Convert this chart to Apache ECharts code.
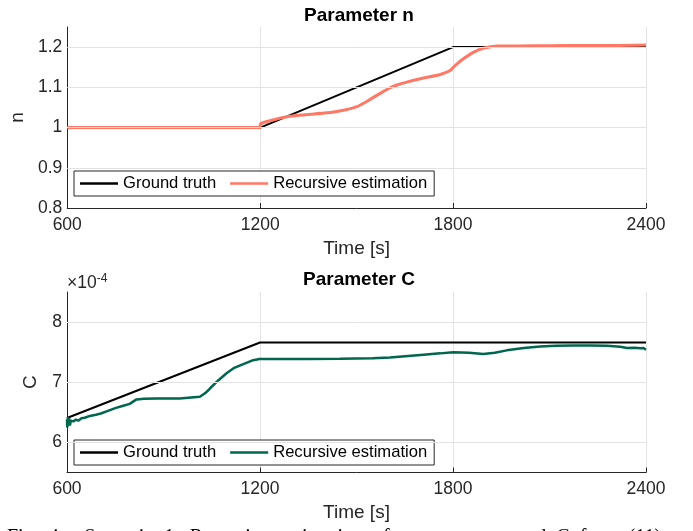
<!DOCTYPE html>
<html>
<head>
<meta charset="utf-8">
<script src="https://cdn.jsdelivr.net/npm/echarts@6/dist/echarts.min.js"></script>
<style>
html,body{margin:0;padding:0;background:#fff;}
#c{width:693px;height:531px;}
</style>
</head>
<body>
<div id="c"></div>
<script>
// ---------- data ----------
const xTicks = [600, 1200, 1800, 2400];
const nTicks = [0.8, 0.9, 1.0, 1.1, 1.2];
const cTicks = [6, 7, 8]; // units of 1e-4

const tTruthN = [600, 1200, 1800, 2400];
const nTruth  = [1.0, 1.0, 1.2, 1.2];

const tEstN = [600, 1199, 1201, 1230, 1283, 1340, 1400, 1438, 1470, 1501, 1530, 1552, 1580, 1604, 1630, 1656, 1708, 1760, 1791, 1801, 1815, 1832, 1863, 1894, 1936, 2000, 2100, 2200, 2300, 2400];
const nEst  = [1.0, 1.0, 1.009, 1.017, 1.027, 1.032, 1.036, 1.040, 1.045, 1.052, 1.064, 1.075, 1.088, 1.099, 1.107, 1.113, 1.123, 1.132, 1.142, 1.150, 1.160, 1.171, 1.187, 1.197, 1.2025, 1.203, 1.2035, 1.204, 1.204, 1.205];

const tTruthC = [600, 1200, 2400];
const cTruth  = [6.405, 7.66, 7.66];

const tEstC = [600, 601, 603, 605, 607, 609, 612, 615, 620, 628, 635, 645, 655, 671, 690, 705, 723, 750, 775, 795, 816, 840, 879, 950, 1013, 1030, 1045, 1070, 1096, 1120, 1148, 1175, 1198, 1250, 1350, 1449, 1550, 1604, 1708, 1760, 1801, 1850, 1894, 1930, 1967, 2020, 2071, 2120, 2175, 2230, 2279, 2320, 2341, 2365, 2382, 2392, 2400];
const cEst  = [6.38, 6.25, 6.42, 6.30, 6.40, 6.28, 6.36, 6.33, 6.35, 6.38, 6.36, 6.40, 6.41, 6.44, 6.46, 6.48, 6.515, 6.57, 6.61, 6.64, 6.715, 6.725, 6.73, 6.73, 6.76, 6.82, 6.90, 7.03, 7.15, 7.24, 7.30, 7.36, 7.385, 7.385, 7.385, 7.39, 7.40, 7.41, 7.457, 7.48, 7.50, 7.49, 7.47, 7.49, 7.53, 7.57, 7.595, 7.605, 7.61, 7.61, 7.605, 7.59, 7.57, 7.575, 7.565, 7.57, 7.54];

// ---------- styles ----------
const FONT = 'Liberation Sans, Arial, sans-serif';
const AX = '#262626';
const GRID = '#e3e3e3';
const ORANGE = '#FF7865';
const GREEN = '#00664D';
const TICK_FS = 17.5;
const LABEL_FS = 19;
const zip = (a, b) => a.map((v, i) => [v, b[i]]);

function xAxisCfg(idx) {
  return {
    type: 'value', gridIndex: idx, min: 600, max: 2400, interval: 600,
    name: 'Time [s]', nameLocation: 'middle', nameGap: 31,
    nameTextStyle: {fontFamily: FONT, fontSize: LABEL_FS, color: AX},
    axisLine: {show: true, lineStyle: {color: AX, width: 1}},
    axisTick: {show: true, inside: true, length: 5, lineStyle: {color: AX}},
    axisLabel: {fontFamily: FONT, fontSize: TICK_FS, color: AX, margin: 8, formatter: v => String(v)},
    splitLine: {show: true, lineStyle: {color: GRID, width: 1}}
  };
}
function yAxisCfg(idx, min, max, ticks, name, gap, fmt) {
  return {
    type: 'value', gridIndex: idx, min: min, max: max,
    name: name, nameLocation: 'middle', nameGap: gap, nameRotate: 90,
    nameTextStyle: {fontFamily: FONT, fontSize: LABEL_FS, color: AX},
    axisLine: {show: true, lineStyle: {color: AX, width: 1}},
    axisTick: {show: true, inside: true, length: 5, lineStyle: {color: AX}, customValues: ticks},
    axisLabel: {fontFamily: FONT, fontSize: TICK_FS, color: AX, margin: 5, customValues: ticks, formatter: fmt},
    splitLine: {show: false}
  };
}
function gridLines(idx, min, ticks) {
  return {
    type: 'line', xAxisIndex: idx, yAxisIndex: idx, data: [], z: 1, silent: true,
    markLine: {
      silent: true, symbol: 'none', label: {show: false}, animation: false,
      lineStyle: {color: GRID, width: 1, type: 'solid'},
      emphasis: {disabled: true},
      data: ticks.filter(v => v > min + 1e-9).map(v => ({yAxis: v}))
    }
  };
}
function legendCfg(top, estColor) {
  return {
    left: 74, top: top, orient: 'horizontal',
    icon: 'rect', itemWidth: 38, itemHeight: 2.5, itemGap: 14,
    padding: [4, 7, 4, 6],
    borderColor: AX, borderWidth: 1, backgroundColor: '#fff',
    textStyle: {fontFamily: FONT, fontSize: 16.6, color: '#000'},
    selectedMode: false,
    data: [
      {name: 'Ground truth', itemStyle: {color: '#000'}},
      {name: 'Recursive estimation', itemStyle: {color: estColor}}
    ]
  };
}

const chart = echarts.init(document.getElementById('c'), null, {renderer: 'canvas'});
chart.setOption({
  animation: false,
  backgroundColor: '#fff',
  title: [
    {text: 'Parameter n', left: 354, top: 1, textAlign: 'center',
     textStyle: {fontFamily: FONT, fontSize: 19, fontWeight: 'bold', color: '#000'}},
    {text: 'Parameter C', left: 354, top: 265, textAlign: 'center',
     textStyle: {fontFamily: FONT, fontSize: 19, fontWeight: 'bold', color: '#000'}}
  ],
  grid: [
    {left: 67, right: 47, top: 27, height: 181},
    {left: 67, right: 47, top: 292, height: 180.5}
  ],
  legend: [legendCfg(171, ORANGE), legendCfg(440, GREEN)],
  xAxis: [xAxisCfg(0), xAxisCfg(1)],
  yAxis: [
    yAxisCfg(0, 0.8, 1.25, nTicks, 'n', 38, v => (Math.abs(v - 1) < 1e-9 ? '1' : v.toFixed(1))),
    yAxisCfg(1, 5.5, 8.5, cTicks, 'C', 27, v => String(Math.round(v)))
  ],
  series: [
    gridLines(0, 0.8, nTicks),
    gridLines(1, 5.5, cTicks),
    {name: 'Ground truth', type: 'line', xAxisIndex: 0, yAxisIndex: 0, z: 3,
     data: zip(tTruthN, nTruth), showSymbol: false, lineStyle: {color: '#000', width: 2}, itemStyle: {color: '#000'}},
    {name: 'Recursive estimation', type: 'line', xAxisIndex: 0, yAxisIndex: 0, z: 4, smooth: 0.3,
     data: zip(tEstN, nEst), showSymbol: false, lineStyle: {color: ORANGE, width: 3}, itemStyle: {color: ORANGE}},
    {name: 'Ground truth', type: 'line', xAxisIndex: 1, yAxisIndex: 1, z: 3,
     data: zip(tTruthC, cTruth), showSymbol: false, lineStyle: {color: '#000', width: 2}, itemStyle: {color: '#000'}},
    {name: 'Recursive estimation', type: 'line', xAxisIndex: 1, yAxisIndex: 1, z: 4,
     data: zip(tEstC, cEst), showSymbol: false, lineStyle: {color: GREEN, width: 2.5}, itemStyle: {color: GREEN}}
  ],
  graphic: [
    {type: 'text', left: 67, top: 273, style: {
      text: '×10{s|-4}', fontFamily: FONT, fontSize: 17.5, fill: AX,
      rich: {s: {fontFamily: FONT, fontSize: 12, fill: AX, verticalAlign: 'top', padding: [0, 0, 9, 0]}}
    }},
    {type: 'text', left: 7, top: 528, style: {
      text: 'Fig.  4:    Scenario  1:  Recursive  estimation  of  parameters  n  and  C  from  (11).',
      fontFamily: 'Liberation Serif, Times New Roman, serif', fontSize: 20, fill: '#000'
    }}
  ]
});
</script>
</body>
</html>
